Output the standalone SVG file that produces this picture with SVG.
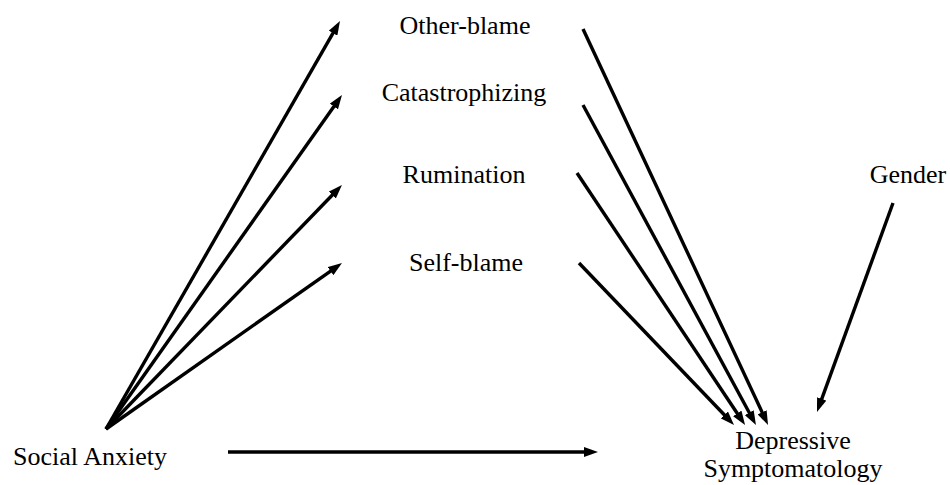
<svg xmlns="http://www.w3.org/2000/svg" width="950" height="485" viewBox="0 0 950 485">
<defs>
<marker id="ah" viewBox="0 0 14 10" refX="4" refY="5" markerWidth="14" markerHeight="10" markerUnits="userSpaceOnUse" orient="auto">
<path d="M0,0 L14,5 L0,10 z" fill="#000"/>
</marker>
<style>
text{font-family:"Liberation Serif","Times New Roman",serif;font-size:26px;fill:#000;text-anchor:middle}
.c line{stroke:#000;stroke-width:3.4;marker-end:url(#ah)}
</style>
</defs>
<rect width="950" height="485" fill="#fff"/>
<g id="social-anxiety"><text x="90" y="465">Social Anxiety</text></g>
<g id="other-blame"><text x="465" y="34">Other-blame</text></g>
<g id="catastrophizing"><text x="464" y="101">Catastrophizing</text></g>
<g id="rumination"><text x="464" y="183">Rumination</text></g>
<g id="self-blame"><text x="466" y="271">Self-blame</text></g>
<g id="gender"><text x="908" y="183">Gender</text></g>
<g id="depressive"><text x="793" y="449">Depressive</text><text x="793" y="477">Symptomatology</text></g>
<g class="c" id="connectors">
<line x1="106" y1="429" x2="335" y2="29.7"/>
<line x1="106" y1="429" x2="336.2" y2="103.2"/>
<line x1="106" y1="429" x2="335" y2="192.2"/>
<line x1="106" y1="429" x2="333.8" y2="268.8"/>
<line x1="228" y1="452" x2="588" y2="452"/>
<line x1="583" y1="29" x2="763.8" y2="415.9"/>
<line x1="583" y1="105" x2="751.2" y2="416.2"/>
<line x1="577" y1="173" x2="739.5" y2="416.7"/>
<line x1="579" y1="263" x2="727.1" y2="417.8"/>
<line x1="893" y1="203" x2="820.4" y2="402.6"/>
</g>
</svg>
